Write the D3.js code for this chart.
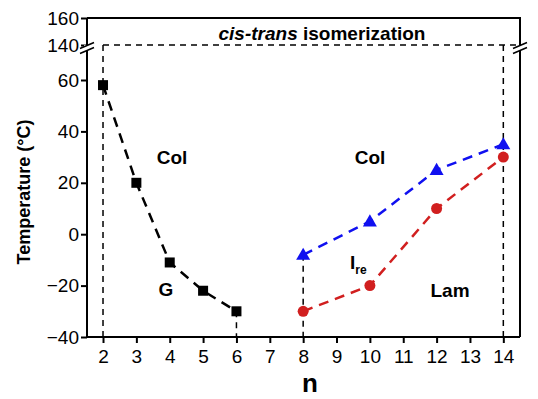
<!DOCTYPE html>
<html>
<head>
  <meta charset="UTF-8">
  <style>
    body { margin: 0; background: #fff; }
    svg { display: block; font-family: "Liberation Sans", Arial, sans-serif; }
  </style>
</head>
<body>
  <script src="https://d3js.org/d3.v7.min.js"></script>
  <script>
    // data
    var nBlack = [2, 3, 4, 5, 6];
    var tBlack = [58, 20, -11, -22, -30];
    var nBlue = [8, 10, 12, 14];
    var tBlue = [-8, 5, 25, 35];
    var nRed = [8, 10, 12, 14];
    var tRed = [-30, -20, 10, 30];
    var xTicks = [2, 3, 4, 5, 6, 7, 8, 9, 10, 11, 12, 13, 14];
    var yTicksLow = [-40, -20, 0, 20, 40, 60];
    var yTicksHigh = [140, 160];
    var isoLevel = 140;

    var W = 538, H = 399;
    var mLeft = 87, mRight = 520, mTop = 18, mBottom = 337;

    var svg = d3.select('body').append('svg')
      .attr('width', W).attr('height', H);

    var x = d3.scaleLinear().domain([1.52, 14.5]).range([mLeft, mRight]);
    var yLow = d3.scaleLinear().domain([-40, 60]).range([mBottom, 80]);
    var yHigh = d3.scaleLinear().domain([140, 160]).range([45, mTop]);

    // frame: top and right
    svg.append('path')
      .attr('d', 'M' + mLeft + ',' + mTop + 'H' + mRight + 'V' + mBottom)
      .attr('fill', 'none').attr('stroke', '#000').attr('stroke-width', 2);

    // x axis
    var xAxis = svg.append('g')
      .attr('transform', 'translate(0,' + mBottom + ')')
      .call(d3.axisBottom(x).tickValues(xTicks).tickSize(6).tickPadding(4));
    xAxis.select('.domain').attr('d', 'M' + mLeft + ',0H' + mRight).attr('stroke-width', 2);

    // y axis, two parts
    var yAxL = svg.append('g')
      .attr('transform', 'translate(' + mLeft + ',0)')
      .call(d3.axisLeft(yLow).tickValues(yTicksLow).tickSize(6).tickPadding(2));
    yAxL.select('.domain').attr('d', 'M0,' + mBottom + 'V' + mTop).attr('stroke-width', 2);
    var yAxH = svg.append('g')
      .attr('transform', 'translate(' + mLeft + ',0)')
      .call(d3.axisLeft(yHigh).tickValues(yTicksHigh).tickSize(6).tickPadding(2));
    yAxH.select('.domain').remove();

    svg.selectAll('.tick line').attr('stroke-width', 2);
    svg.selectAll('.tick text').attr('font-size', 19).attr('fill', '#000')
      .attr('font-family', '"Liberation Sans", Arial, sans-serif');
    xAxis.selectAll('.tick text').attr('dy', '0.85em');

    // break marks on left and right
    [mLeft, mRight].forEach(function(bx) {
      var by = yHigh(isoLevel) + 3;
      svg.append('rect').attr('x', bx - 3).attr('y', by - 3).attr('width', 6).attr('height', 5).attr('fill', '#fff');
      [-2.5, 2.5].forEach(function(o) {
        svg.append('line')
          .attr('x1', bx - 7).attr('y1', by + o + 3)
          .attr('x2', bx + 7).attr('y2', by + o - 3)
          .attr('stroke', '#000').attr('stroke-width', 1.6);
      });
    });

    // dashed reference lines
    var ref = svg.append('g').attr('fill', 'none').attr('stroke', '#000')
      .attr('stroke-width', 1.5).attr('stroke-dasharray', '6,5');
    ref.append('line').attr('x1', x(2)).attr('x2', mRight).attr('y1', yHigh(isoLevel)).attr('y2', yHigh(isoLevel));
    ref.append('line').attr('x1', x(2)).attr('x2', x(2)).attr('y1', yHigh(isoLevel)).attr('y2', mBottom);
    ref.append('line').attr('x1', x(14)).attr('x2', x(14)).attr('y1', yHigh(isoLevel)).attr('y2', mBottom);
    ref.append('line').attr('x1', x(6)).attr('x2', x(6)).attr('y1', yLow(tBlack[4])).attr('y2', mBottom);
    ref.append('line').attr('x1', x(8)).attr('x2', x(8)).attr('y1', yLow(tBlue[0])).attr('y2', mBottom);

    var line = d3.line().x(function(d) { return x(d[0]); }).y(function(d) { return yLow(d[1]); });
    function series(ns, ts, color) {
      var pts = ns.map(function(n, i) { return [n, ts[i]]; });
      svg.append('path').datum(pts).attr('d', line)
        .attr('fill', 'none').attr('stroke', color).attr('stroke-width', 2.5)
        .attr('stroke-dasharray', '10,7');
      return pts;
    }
    var pb = series(nBlack, tBlack, '#000');
    var pu = series(nBlue, tBlue, '#1010f0');
    var pr = series(nRed, tRed, '#d11f1f');

    svg.selectAll('.sq').data(pb).enter().append('rect')
      .attr('x', function(d) { return x(d[0]) - 5; })
      .attr('y', function(d) { return yLow(d[1]) - 5; })
      .attr('width', 10).attr('height', 10).attr('fill', '#000');
    svg.selectAll('.tri').data(pu).enter().append('path')
      .attr('d', d3.symbol().type(d3.symbolTriangle).size(85))
      .attr('transform', function(d) { return 'translate(' + x(d[0]) + ',' + (yLow(d[1]) + 1) + ')'; })
      .attr('fill', '#1010f0');
    svg.selectAll('.dot').data(pr).enter().append('circle')
      .attr('cx', function(d) { return x(d[0]); })
      .attr('cy', function(d) { return yLow(d[1]); })
      .attr('r', 5.5).attr('fill', '#d11f1f');

    // phase labels
    function lbl(tx, ty, s) {
      return svg.append('text').attr('x', tx).attr('y', ty)
        .attr('font-size', 19).attr('font-weight', 'bold').attr('text-anchor', 'middle').text(s);
    }
    lbl(172, 164, 'Col');
    lbl(166, 296, 'G');
    lbl(370, 164, 'Col');
    lbl(450, 297, 'Lam');
    var ire = lbl(350, 269, 'I').attr('text-anchor', 'start');
    ire.append('tspan').attr('font-size', 12).attr('dy', 5).text('re');

    var title = svg.append('text').attr('x', 322).attr('y', 40)
      .attr('font-size', 19).attr('font-weight', 'bold').attr('text-anchor', 'middle');
    title.append('tspan').attr('font-style', 'italic').text('cis-trans');
    title.append('tspan').text(' isomerization');

    svg.append('text').attr('transform', 'translate(30,192) rotate(-90)')
      .attr('text-anchor', 'middle').attr('font-size', 18).attr('font-weight', 'bold')
      .text('Temperature (\u00B0C)');
    svg.append('text').attr('x', 310).attr('y', 392).attr('text-anchor', 'middle')
      .attr('font-size', 26).attr('font-weight', 'bold').text('n');
  </script>
</body>
</html>
